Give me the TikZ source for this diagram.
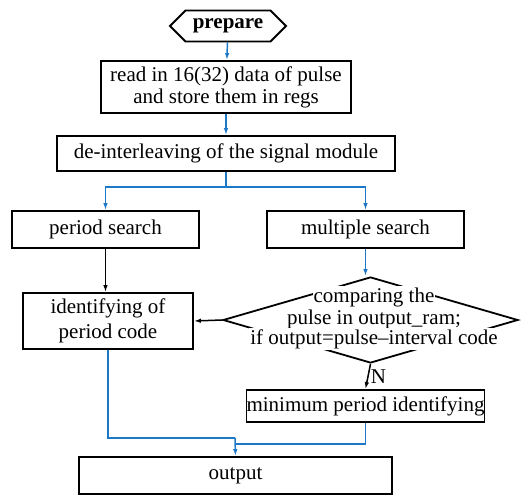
\documentclass[tikz,border=0pt]{standalone}
\usepackage{fontspec}
\setmainfont{Liberation Serif}
\usetikzlibrary{positioning,shapes.geometric,shapes.symbols,arrows.meta}
\definecolor{flowblue}{RGB}{30,120,200}
\tikzset{
  blk/.style={draw, line width=1.8pt, inner sep=0pt, align=center},
  bline/.style={flowblue, line width=1.5pt},
  kline/.style={black, line width=1.5pt},
  dtxt/.style={fill=white, inner sep=1pt},
}
\begin{document}
\begin{tikzpicture}[x=1pt, y=-1pt, >={Latex[length=7pt,width=4.5pt]},
  font=\fontsize{21}{22}\selectfont]
\useasboundingbox (0,0) rectangle (528,495);
% boxes
\node[signal, signal to=west and east, signal pointer angle=90, draw, line width=1.8pt,
  minimum width=116pt, minimum height=31pt, inner sep=0pt, font=\fontsize{21}{22}\selectfont\bfseries]
  (prep) at (228,26) {prepare};
\node[blk, minimum width=250pt, minimum height=52pt] (read) at (226,87)
  {read in 16(32) data of pulse\\and store them in regs};
\node[blk, minimum width=338pt, minimum height=35pt] (deint) at (226,153.5)
  {de-interleaving of the signal module};
\node[blk, minimum width=187pt, minimum height=37pt] (psrch) at (105.5,229.5) {period search};
\node[blk, minimum width=197pt, minimum height=37pt] (msrch) at (365.5,229.5) {multiple search};
\node[blk, minimum width=170pt, minimum height=56pt] (ident) at (108,321)
  {identifying of\\[3pt]period code};
\node[diamond, draw, line width=1.8pt, minimum width=295pt, minimum height=86pt, inner sep=0pt]
  (cmp) at (370.5,320) {};
\node[dtxt] (cmpa) at (374,297) {comparing the};
\node[dtxt] (cmpb) at (374,319) {pulse in output\_ram;};
\node[dtxt] (cmpc) at (374,339) {if output=pulse--interval code};
\node[blk, minimum width=231pt, minimum height=32pt] (minp) at (365.5,406) {minimum period identifying};
\node[blk, minimum width=313pt, minimum height=37pt] (outp) at (235.5,475.5) {output};
\coordinate (jn) at (235,438);
\coordinate (jn2) at (235,444);
% connectors
\draw[bline,->] (prep) -- (read);
\draw[bline,->] (read) -- (deint);
\draw[bline] (deint.south) -- ++(0,15) coordinate (br);
\draw[bline,->] (br) -| (psrch.north);
\draw[bline,->] (br) -| (msrch.north);
\draw[kline,->] (psrch.south) -- (psrch.south |- ident.north);
\draw[bline,->] (msrch.south) -- (msrch.south |- cmp.north);
\draw[kline,->] (cmp.west) -- (ident.east);
\draw[kline,->] (cmp.south) -- (minp.north) node[midway, right, inner sep=2pt] {N};
\draw[bline] (ident.south) |- (jn);
\draw[bline] (minp.south) |- (jn2);
\draw[bline,->] (jn) -- (outp.north);
\end{tikzpicture}
\end{document}
